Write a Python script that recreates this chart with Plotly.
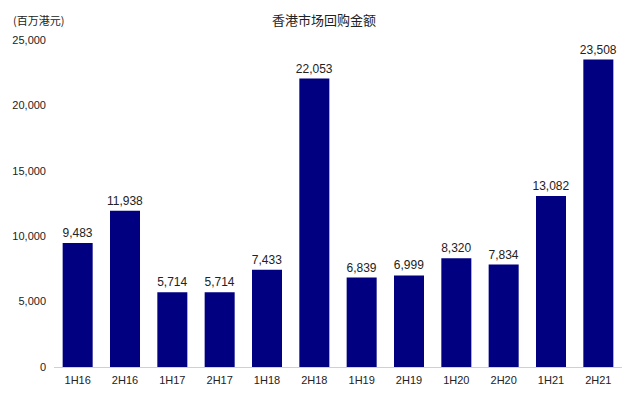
import plotly.graph_objects as go

periods = ["1H16", "2H16", "1H17", "2H17", "1H18", "2H18",
           "1H19", "2H19", "1H20", "2H20", "1H21", "2H21"]
buyback = [9483, 11938, 5714, 5714, 7433, 22053,
           6839, 6999, 8320, 7834, 13082, 23508]

tick_vals = [0, 5000, 10000, 15000, 20000, 25000]
tick_text = ["0", "5,000", "10,000", "15,000", "20,000", "25,000"]

font_main = "Liberation Sans, Arial, Noto Sans CJK SC, sans-serif"
font_cjk = "Noto Sans CJK SC, sans-serif"

# the page body has an 8px default margin, so the figure is made 8px smaller
fig = go.Figure()
fig.add_trace(go.Bar(
    x=periods,
    y=buyback,
    marker=dict(color="#000080", line=dict(width=0)),
    text=["{:,}".format(v) for v in buyback],
    textposition="outside",
    cliponaxis=False,
    textfont=dict(size=12, color="#222222", family=font_main),
))

fig.update_layout(
    width=632, height=393,
    margin=dict(l=46, r=18, t=32, b=34, autoexpand=False),
    paper_bgcolor="white",
    plot_bgcolor="white",
    bargap=0.366,
    showlegend=False,
    uniformtext=dict(minsize=12, mode="show"),
    font=dict(family=font_main, size=11, color="#222222"),
    title=dict(text="香港市场回购金额", x=0.5, xanchor="center",
               y=0.968, yanchor="middle",
               font=dict(size=13, color="#222222", family=font_cjk)),
    xaxis=dict(showgrid=False, showline=True, linecolor="#d0d0d0",
               linewidth=1, ticks="", automargin=False,
               ticklabelstandoff=3,
               tickfont=dict(size=11, color="#222222")),
    yaxis=dict(range=[0, 25000], tickvals=tick_vals, ticktext=tick_text,
               showgrid=False, zeroline=False, showline=False, ticks="",
               automargin=False, ticklabelstandoff=7,
               tickfont=dict(size=11, color="#222222")),
)

fig.add_annotation(text="(百万港元)", xref="paper", yref="paper",
                   x=-0.0757, y=1.061, xanchor="left", yanchor="middle",
                   showarrow=False,
                   font=dict(size=11, color="#222222", family=font_cjk))

fig.write_html("out.html")
